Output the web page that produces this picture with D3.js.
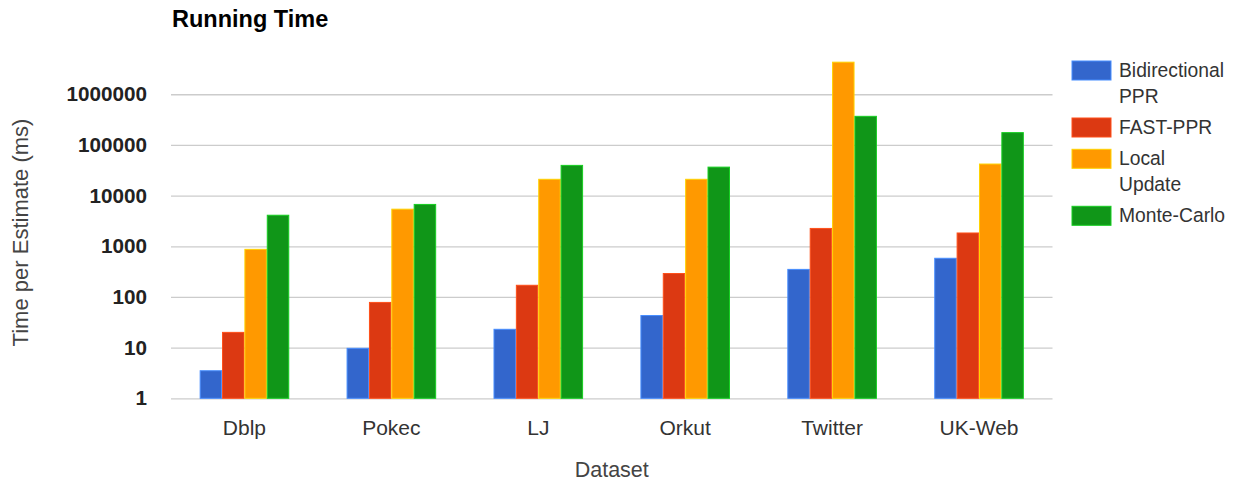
<!DOCTYPE html>
<html>
<head>
<meta charset="utf-8">
<script src="https://cdn.jsdelivr.net/npm/d3@7"></script>
<style>
  body { margin: 0; background: #fff; }
  text { font-family: Arial, "Liberation Sans", sans-serif; }
</style>
</head>
<body>
<div id="chart"></div>
<script>
// data
const datasets = ["Dblp", "Pokec", "LJ", "Orkut", "Twitter", "UK-Web"];
const seriesNames = ["Bidirectional PPR", "FAST-PPR", "Local Update", "Monte-Carlo"];
const legendLines = [["Bidirectional", "PPR"], ["FAST-PPR"], ["Local", "Update"], ["Monte-Carlo"]];
const bidirectional = [3.5, 9.7, 23, 43, 350, 580];
const fastPpr = [20, 78, 170, 290, 2250, 1830];
const localUpdate = [870, 5400, 21000, 21000, 4300000, 42000];
const monteCarlo = [4100, 6700, 39500, 36500, 367000, 175000];
const yTicks = [1, 10, 100, 1000, 10000, 100000, 1000000];
const colors = ["#3366cc", "#dc3912", "#ff9900", "#109618"];

const seriesValues = [bidirectional, fastPpr, localUpdate, monteCarlo];

const width = 1242, height = 482;
const plotLeft = 171, plotRight = 1052.5, plotTop = 43.6, plotBottom = 398.3;

const svg = d3.select("#chart").append("svg")
    .attr("width", width)
    .attr("height", height);

// scales
var x0 = d3.scaleBand()
    .domain(datasets)
    .range([plotLeft, plotRight])
    .paddingInner(0.397)
    .paddingOuter(0.1985);

var x1 = d3.scaleBand()
    .domain(seriesNames)
    .range([0, x0.bandwidth()])
    .paddingInner(0.04);

var y = d3.scaleLog()
    .domain([1, 1e7])
    .range([plotBottom, plotTop]);

// y axis with gridlines
const yAxis = svg.append("g")
    .attr("transform", "translate(" + plotLeft + ",0)")
    .call(d3.axisLeft(y)
        .tickValues(yTicks)
        .tickFormat(d3.format("d"))
        .tickSize(-(plotRight - plotLeft))
        .tickPadding(24));
yAxis.select(".domain").remove();
yAxis.selectAll(".tick line").attr("stroke", "#cccccc").attr("stroke-width", 1.3);
yAxis.selectAll(".tick text")
    .attr("fill", "#222")
    .style("font-size", "20.7px")
    .style("font-weight", "bold")
    .style("font-family", "Arial, 'Liberation Sans', sans-serif");

// bars
const groups = svg.append("g")
    .selectAll("g")
    .data(datasets)
    .enter()
    .append("g")
    .attr("transform", d => "translate(" + x0(d) + ",0)");

groups.selectAll("rect")
    .data((d, i) => seriesNames.map((s, j) => ({ s: s, v: seriesValues[j][i], c: colors[j] })))
    .enter()
    .append("rect")
    .attr("x", d => x1(d.s))
    .attr("y", d => y(d.v))
    .attr("width", x1.bandwidth())
    .attr("height", d => y(1) - y(d.v))
    .attr("fill", d => d.c)
    .attr("stroke", d => d3.color(d.c).brighter(0.9))
    .attr("stroke-width", 1);

// x labels
const xAxis = svg.append("g")
    .attr("transform", "translate(0," + plotBottom + ")")
    .call(d3.axisBottom(x0).tickSize(0).tickPadding(0));
xAxis.select(".domain").remove();
xAxis.selectAll(".tick text")
    .attr("y", 36.7)
    .attr("dy", null)
    .attr("fill", "#333")
    .style("font-size", "21px")
    .style("font-family", "Arial, 'Liberation Sans', sans-serif");

// title
svg.append("text")
    .attr("x", 172)
    .attr("y", 26.7)
    .style("font-size", "23.5px")
    .style("font-weight", "bold")
    .attr("fill", "#000")
    .text("Running Time");

// axis titles
svg.append("text")
    .attr("x", (plotLeft + plotRight) / 2)
    .attr("y", 476.7)
    .attr("text-anchor", "middle")
    .style("font-size", "21.5px")
    .attr("fill", "#444")
    .text("Dataset");

svg.append("text")
    .attr("transform", "translate(28,232.5) rotate(-90)")
    .attr("text-anchor", "middle")
    .style("font-size", "22px")
    .attr("fill", "#444")
    .text("Time per Estimate (ms)");

// legend
let ly = 61;
const legend = svg.append("g");
legendLines.forEach((lines, i) => {
    legend.append("rect")
        .attr("x", 1072)
        .attr("y", ly)
        .attr("width", 39)
        .attr("height", 19)
        .attr("fill", colors[i])
        .attr("stroke", d3.color(colors[i]).brighter(0.9))
        .attr("stroke-width", 1);
    lines.forEach((l, k) => {
        legend.append("text")
            .attr("x", 1119)
            .attr("y", ly + 16 + k * 25.7)
            .style("font-size", "19.3px")
            .attr("fill", "#333")
            .text(l);
    });
    ly += 31.3 + (lines.length - 1) * 25.7;
});
</script>
</body>
</html>
